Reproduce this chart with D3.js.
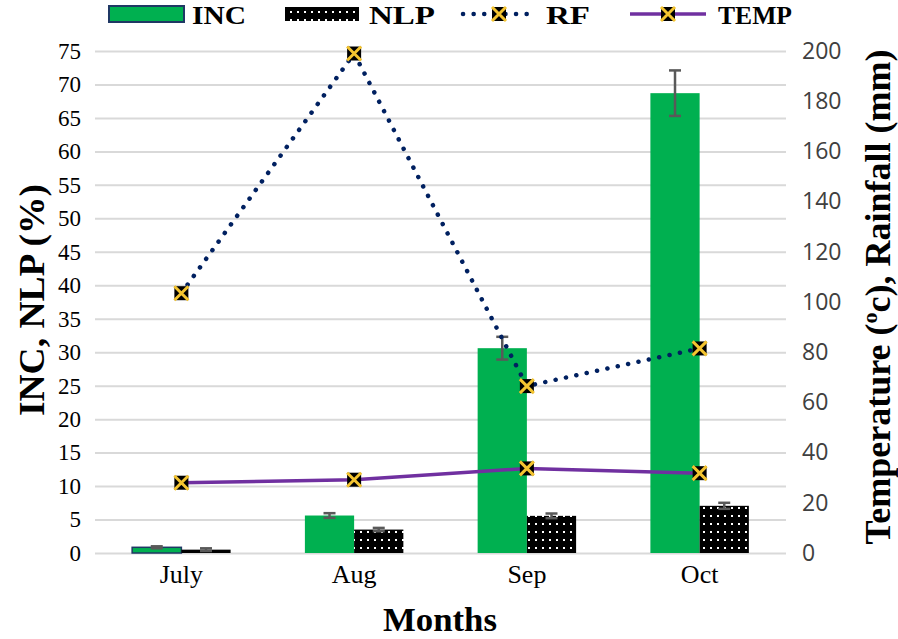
<!DOCTYPE html>
<html><head><meta charset="utf-8">
<script src="https://cdn.jsdelivr.net/npm/d3@7"></script>
<style>body{margin:0;background:#fff}svg{display:block}</style>
</head><body>
<svg id="c" width="898" height="639"></svg>
<script>
const months = ["July","Aug","Sep","Oct"];
const inc = [0.85, 5.6, 30.6, 68.7];
const incErr = [0.15, 0.35, 1.7, 3.4];
const nlp = [0.5, 3.5, 5.55, 7.05];
const nlpErr = [0.2, 0.25, 0.35, 0.45];
const rf = [103.5, 199, 66.5, 81.5];
const temp = [28.0, 29.2, 33.7, 31.8];
const leftTicks = d3.range(0, 76, 5);
const rightTicks = d3.range(0, 201, 20);

const svg = d3.select("#c");
const L = 95, R = 786, T = 51, B = 553;
const x = d3.scaleBand().domain(months).range([L, R]).paddingInner(0.43).paddingOuter(0.215);
const xc = m => x(m) + x.bandwidth()/2;
const yL = d3.scaleLinear().domain([0, 75]).range([B, T]);
const yR = d3.scaleLinear().domain([0, 200]).range([B, T]);
const bw = x.bandwidth()/2;

// pattern
const defs = svg.append("defs");
const pat = defs.append("pattern").attr("id","dots").attr("patternUnits","userSpaceOnUse")
  .attr("width",7).attr("height",8);
pat.append("rect").attr("width",7).attr("height",8).attr("fill","#000");
pat.append("rect").attr("x",3).attr("y",3).attr("width",2).attr("height",2).attr("fill","#fff");

// grid
const gridAxis = d3.axisLeft(yL).tickValues(leftTicks).tickSize(-(R-L)).tickFormat("");
svg.append("g").attr("transform",`translate(${L},0)`).call(gridAxis)
  .call(g=>g.select(".domain").remove())
  .call(g=>g.selectAll("line").attr("stroke","#d9d9d9").attr("stroke-width",2));

// left axis labels
const la = d3.axisLeft(yL).tickValues(leftTicks).tickSize(0).tickPadding(14);
svg.append("g").attr("transform",`translate(${L},0)`).call(la)
  .call(g=>g.select(".domain").remove())
  .call(g=>g.selectAll("text").attr("font-family","Liberation Serif").attr("font-size",23).attr("fill","#000"));

// right axis labels
const ra = d3.axisRight(yR).tickValues(rightTicks).tickSize(0).tickPadding(16);
svg.append("g").attr("transform",`translate(${R},0)`).call(ra)
  .call(g=>g.select(".domain").remove())
  .call(g=>g.selectAll("text").attr("font-family","'Open Sans', sans-serif").attr("font-size",23).attr("fill","#404040"));

// x labels
const xa = d3.axisBottom(x).tickSize(0).tickPadding(12);
svg.append("g").attr("transform",`translate(0,${B})`).call(xa)
  .call(g=>g.select(".domain").remove())
  .call(g=>g.selectAll("text").attr("font-family","Liberation Serif").attr("font-size",26).attr("fill","#000"));

// bars
svg.append("g").selectAll("rect").data(months).join("rect")
  .attr("x", m=>x(m)).attr("width", bw)
  .attr("y", (m,i)=>yL(inc[i])).attr("height",(m,i)=>B-yL(inc[i]))
  .attr("fill","#00b050")
  .attr("stroke",(m,i)=>i===0?"#1f3864":"none").attr("stroke-width",1.5);
svg.append("g").selectAll("rect").data(months).join("rect")
  .attr("x", m=>x(m)+bw).attr("width", bw)
  .attr("y", (m,i)=>yL(nlp[i])).attr("height",(m,i)=>B-yL(nlp[i]))
  .attr("fill","url(#dots)");

// error bars
function errBars(vals, errs, off){
  const g = svg.append("g").attr("stroke","#595959").attr("stroke-width",2.5);
  months.forEach((m,i)=>{
    const cx = x(m)+off;
    const y1 = yL(vals[i]+errs[i]), y2 = yL(vals[i]-errs[i]);
    g.append("line").attr("x1",cx).attr("x2",cx).attr("y1",y1).attr("y2",y2);
    g.append("line").attr("x1",cx-6).attr("x2",cx+6).attr("y1",y1).attr("y2",y1);
    g.append("line").attr("x1",cx-6).attr("x2",cx+6).attr("y1",y2).attr("y2",y2);
  });
}
errBars(inc, incErr, bw/2);
errBars(nlp, nlpErr, bw*1.5);

// lines
const line = d3.line().x((d,i)=>xc(months[i])).y(d=>yR(d));
svg.append("path").datum(temp).attr("d",line).attr("fill","none")
  .attr("stroke","#7030a0").attr("stroke-width",3.5);
svg.append("path").datum(rf).attr("d",line).attr("fill","none")
  .attr("stroke","#002060").attr("stroke-width",4.5).attr("stroke-linecap","round")
  .attr("stroke-dasharray","0.1 10.5");

function marker(g, cx, cy){
  const s = 7;
  g.append("rect").attr("x",cx-s).attr("y",cy-s).attr("width",2*s).attr("height",2*s).attr("fill","#000");
  g.append("path").attr("d",`M${cx-s},${cy-s}L${cx+s},${cy+s}M${cx+s},${cy-s}L${cx-s},${cy+s}`)
    .attr("stroke","#f4c430").attr("stroke-width",3);
}
const mg = svg.append("g");
months.forEach((m,i)=>{ marker(mg, xc(m), yR(rf[i])); marker(mg, xc(m), yR(temp[i])); });

// titles
svg.append("text").attr("transform","translate(44,300) rotate(-90)").attr("text-anchor","middle")
  .attr("font-family","Liberation Serif").attr("font-weight","bold").attr("font-size",36)
  .attr("textLength",232).attr("lengthAdjust","spacingAndGlyphs").text("INC, NLP (%)");
const rt = svg.append("text").attr("transform","translate(890,297) rotate(-90)").attr("text-anchor","middle")
  .attr("font-family","Liberation Serif").attr("font-weight","bold").attr("font-size",36);
rt.append("tspan").text("Temperature (");
rt.append("tspan").attr("font-size",22).attr("dy",-13).text("o");
rt.append("tspan").attr("dy",13).text("c),  Rainfall (mm)");
svg.append("text").attr("x",440).attr("y",631).attr("text-anchor","middle")
  .attr("font-family","Liberation Serif").attr("font-weight","bold").attr("font-size",34)
  .attr("textLength",114).attr("lengthAdjust","spacingAndGlyphs").text("Months");

// legend
const lg = svg.append("g").attr("font-family","Liberation Serif").attr("font-weight","bold").attr("font-size",25);
lg.append("rect").attr("x",109).attr("y",6).attr("width",75).attr("height",16).attr("fill","#00b050").attr("stroke","#1f3864").attr("stroke-width",2);
lg.append("text").attr("x",192).attr("y",24).attr("textLength",54).attr("lengthAdjust","spacingAndGlyphs").text("INC");
lg.append("rect").attr("x",285).attr("y",7).attr("width",74).attr("height",14).attr("fill","url(#dots)");
lg.append("text").attr("x",369).attr("y",24).attr("textLength",66).attr("lengthAdjust","spacingAndGlyphs").text("NLP");
lg.append("line").attr("x1",463).attr("x2",537).attr("y1",14).attr("y2",14).attr("stroke","#002060").attr("stroke-width",4.5).attr("stroke-linecap","round").attr("stroke-dasharray","0.1 10.5");
marker(lg, 499, 14);
lg.append("text").attr("x",546).attr("y",24).attr("textLength",44).attr("lengthAdjust","spacingAndGlyphs").text("RF");
lg.append("line").attr("x1",630).attr("x2",706).attr("y1",14).attr("y2",14).attr("stroke","#7030a0").attr("stroke-width",3.5);
marker(lg, 668, 14);
lg.append("text").attr("x",718).attr("y",24).attr("textLength",74).attr("lengthAdjust","spacingAndGlyphs").text("TEMP");
</script>
</body></html>
